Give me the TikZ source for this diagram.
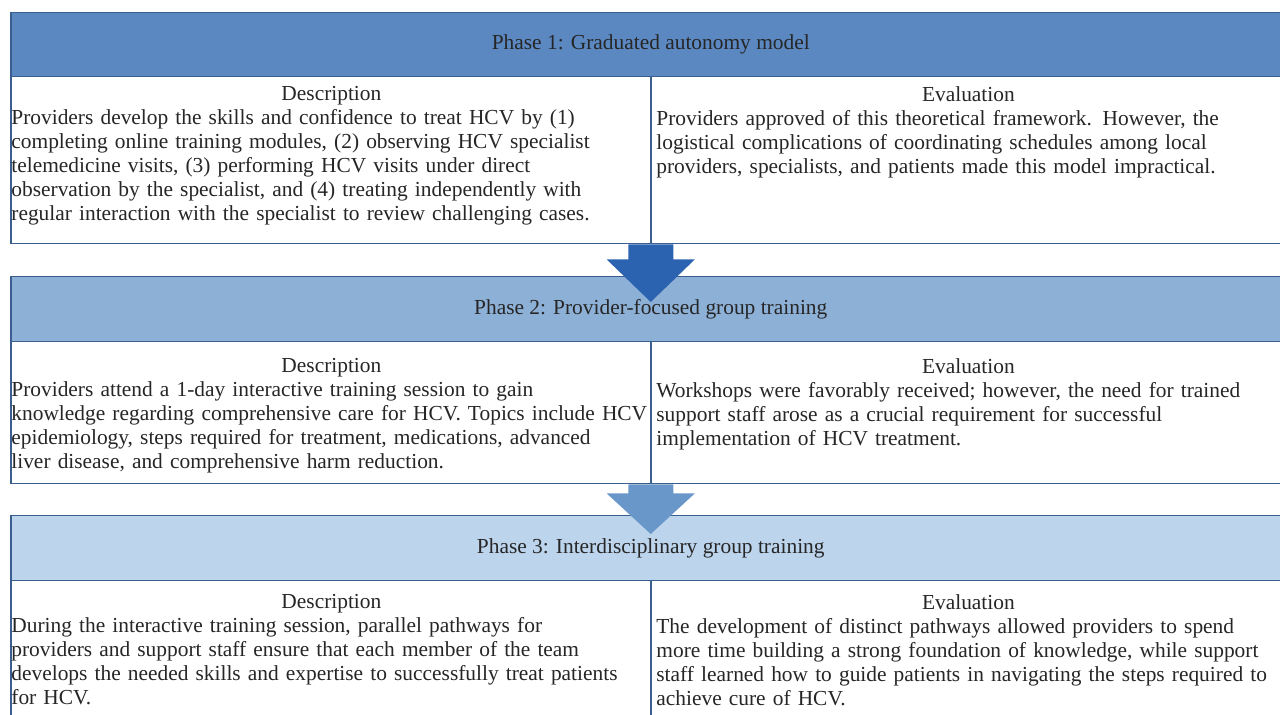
\documentclass[tikz,border=0pt]{standalone}
\usepackage{fontspec}
\setmainfont{Liberation Serif}
\usetikzlibrary{calc}

\definecolor{frame}{HTML}{3A5F8F}
\definecolor{headA}{HTML}{5B88C1}
\definecolor{headB}{HTML}{8DB0D6}
\definecolor{headC}{HTML}{BDD4ED}
\definecolor{arrowA}{HTML}{2B63B1}
\definecolor{arrowB}{HTML}{6A97C9}
\definecolor{ink}{HTML}{262626}

% block arrow from the bottom of one body to the next phase header
\newcommand{\phasearrow}[5]{%
  \fill[#3] ($(#1.south)+(-22.5,0)$) -- ($(#1.south)+(-22.5,#4)$)
    -- ($(#1.south)+(-44,#4)$) -- ($(#2.north)+(0,#5)$)
    -- ($(#1.south)+(44,#4)$) -- ($(#1.south)+(22.5,#4)$)
    -- ($(#1.south)+(22.5,0)$) -- cycle;}

\begin{document}
\begin{tikzpicture}[x=0.5pt, y=-0.5pt, text=ink,
    font=\fontsize{10.7}{12}\selectfont,
    phase/.style={draw=frame, line width=0.75pt, anchor=north west,
      minimum width=640pt, inner sep=0pt},
    body/.style={phase, fill=white},
    cell/.style={anchor=north west, inner sep=0pt, text width=320pt}]
    \useasboundingbox (0,0) rectangle (1280,715);

    % phase 1
    \node[phase, fill=headA, minimum height=32pt] (h1) at (10,12)
        {Phase 1: Graduated autonomy model};
    \node[body, minimum height=83.5pt] (b1) at (10,76) {};
    \draw[frame, line width=0.75pt] (b1.north) -- (b1.south);
    \node[cell] (d1) at (11,86) {\centering Description\par\raggedright
        Providers develop the skills and confidence to treat HCV by (1)\\
        completing online training modules, (2) observing HCV specialist\\
        telemedicine visits, (3) performing HCV visits under direct\\
        observation by the specialist, and (4) treating independently with\\
        regular interaction with the specialist to review challenging cases.};
    \node[cell] (e1) at (656,86) {\centering\hspace*{-8pt}Evaluation\par\raggedright
        Providers approved of this theoretical framework. However, the\\
        logistical complications of coordinating schedules among local\\
        providers, specialists, and patients made this model impractical.};

    % phase 2
    \node[phase, fill=headB, minimum height=32.5pt] (h2) at (10,276)
        {Phase 2: Provider-focused group training};
    \node[body, minimum height=71pt] (b2) at (10,341) {};
    \draw[frame, line width=0.75pt] (b2.north) -- (b2.south);
    \node[cell] (d2) at (11,358) {\centering Description\par\raggedright
        Providers attend a 1-day interactive training session to gain\\
        knowledge regarding comprehensive care for HCV. Topics include HCV\\
        epidemiology, steps required for treatment, medications, advanced\\
        liver disease, and comprehensive harm reduction.};
    \node[cell] (e2) at (656,358) {\centering\hspace*{-8pt}Evaluation\par\raggedright
        Workshops were favorably received; however, the need for trained\\
        support staff arose as a crucial requirement for successful\\
        implementation of HCV treatment.};

    % phase 3
    \node[phase, fill=headC, minimum height=32.5pt] (h3) at (10,515)
        {Phase 3: Interdisciplinary group training};
    \node[body, minimum height=75pt] (b3) at (10,580) {};
    \draw[frame, line width=0.75pt] (b3.north) -- (b3.south);
    \node[cell] (d3) at (11,594) {\centering Description\par\raggedright
        During the interactive training session, parallel pathways for\\
        providers and support staff ensure that each member of the team\\
        develops the needed skills and expertise to successfully treat patients\\
        for HCV.};
    \node[cell] (e3) at (656,594) {\centering\hspace*{-8pt}Evaluation\par\raggedright
        The development of distinct pathways allowed providers to spend\\
        more time building a strong foundation of knowledge, while support\\
        staff learned how to guide patients in navigating the steps required to\\
        achieve cure of HCV.};

    \phasearrow{b1}{h2}{arrowA}{15}{26}
    \phasearrow{b2}{h3}{arrowB}{9}{19}
\end{tikzpicture}
\end{document}
